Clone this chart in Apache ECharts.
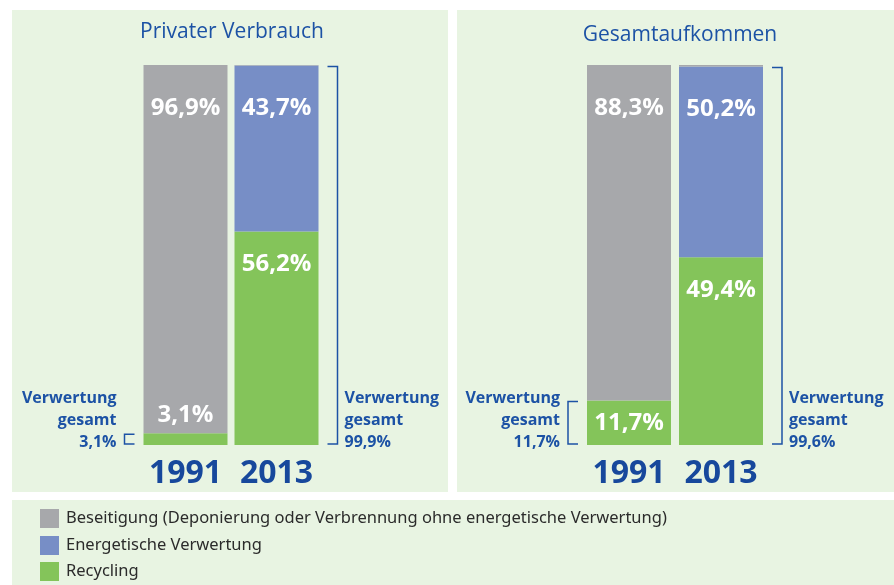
<!DOCTYPE html>
<html lang="de">
<head>
    <meta charset="utf-8">
    <title>Verwertung</title>
    <script src="https://cdn.jsdelivr.net/npm/echarts@6/dist/echarts.min.js"></script>
</head>
<body style="margin:0; background:#ffffff;">
<div id="main" style="width: 894px; height: 585px;"></div>
<script type="text/javascript">
    // Daten
    const years = ['1991', '2013'];
    const panelTitles = ['Privater Verbrauch', 'Gesamtaufkommen'];
    const seriesNames = ['Beseitigung (Deponierung oder Verbrennung ohne energetische Verwertung)', 'Energetische Verwertung', 'Recycling'];
    const privBeseitigung = [96.9, 0.1];
    const privEnergie = [0, 43.7];
    const privRecycling = [3.1, 56.2];
    const gesBeseitigung = [88.3, 0.4];
    const gesEnergie = [0, 50.2];
    const gesRecycling = [11.7, 49.4];

    const colors = ['#a7a8ab', '#778ec6', '#84c45a'];
    const blue = '#1c52a5';
    const bg = '#e8f4e2';
    const font = 'Open Sans';

    function fmt(v) {
        return v.toFixed(1).replace('.', ',') + '%';
    }

    let myChart = echarts.init(document.getElementById('main'));

    function labelFor(kind, v) {
        if (v < 1) return {show: false};
        let base = {show: true, color: '#fff', fontSize: 24, fontWeight: 'bold', fontFamily: font,
            formatter: p => fmt(p.value)};
        if (kind === 'rec') {
            if (v < 5) return Object.assign(base, {position: 'top', distance: 6});
            if (v < 20) return Object.assign(base, {position: 'inside'});
            return Object.assign(base, {position: 'insideTop', distance: 21});
        }
        return Object.assign(base, {position: 'insideTop', distance: 31});
    }

    function makeSeries(grid, arr, kind, name, color) {
        return {
            name: name,
            type: 'bar',
            stack: 's' + grid,
            xAxisIndex: grid,
            yAxisIndex: grid,
            barWidth: 84,
            itemStyle: {color: color},
            data: arr.map(v => ({value: v, label: labelFor(kind, v)}))
        };
    }

    const grids = [
        {left: 140, top: 65, width: 182, height: 380},
        {left: 583, top: 65, width: 184, height: 380}
    ];

    const legendTops = [509, 536, 562];

    const option = {
        animation: false,
        textStyle: {fontFamily: font},
        graphic: [
            {type: 'rect', z: -10, shape: {x: 12, y: 10, width: 436, height: 482}, style: {fill: bg}},
            {type: 'rect', z: -10, shape: {x: 457, y: 10, width: 437, height: 482}, style: {fill: bg}},
            {type: 'rect', z: -10, shape: {x: 12, y: 500, width: 882, height: 85}, style: {fill: bg}}
        ],
        title: [
            {text: panelTitles[0], left: 227, top: 17, textAlign: 'center',
                textStyle: {color: blue, fontSize: 21, fontWeight: 'normal', fontFamily: font}},
            {text: panelTitles[1], left: 675, top: 20, textAlign: 'center',
                textStyle: {color: blue, fontSize: 21, fontWeight: 'normal', fontFamily: font}}
        ],
        legend: seriesNames.map((n, i) => ({
            left: 40,
            top: legendTops[i],
            icon: 'rect',
            itemWidth: 19,
            itemHeight: 19,
            padding: 0,
            selectedMode: false,
            data: [n],
            textStyle: {fontSize: 16.5, color: '#2b2b2b', fontFamily: 'Noto Sans', padding: [3, 0, 0, 2]}
        })),
        grid: grids,
        xAxis: [0, 1].map(g => ({
            type: 'category',
            gridIndex: g,
            data: years,
            axisLine: {show: false},
            axisTick: {show: false},
            axisLabel: {interval: 0, color: '#17489c', fontSize: 32, fontWeight: 'bold', margin: 13, fontFamily: font}
        })),
        yAxis: [0, 1].map(g => ({
            type: 'value',
            gridIndex: g,
            min: 0,
            max: 100,
            show: false,
            splitLine: {show: false}
        })),
        series: [
            makeSeries(0, privRecycling, 'rec', seriesNames[2], colors[2]),
            makeSeries(0, privEnergie, 'en', seriesNames[1], colors[1]),
            makeSeries(0, privBeseitigung, 'bes', seriesNames[0], colors[0]),
            makeSeries(1, gesRecycling, 'rec', seriesNames[2], colors[2]),
            makeSeries(1, gesEnergie, 'en', seriesNames[1], colors[1]),
            makeSeries(1, gesBeseitigung, 'bes', seriesNames[0], colors[0])
        ]
    };
    myChart.setOption(option);

    // Klammern "Verwertung gesamt"
    const verw = [
        [privEnergie, privRecycling],
        [gesEnergie, gesRecycling]
    ];
    let extra = [];
    const half = 42;
    [0, 1].forEach(g => {
        [0, 1].forEach(i => {
            const total = verw[g][0][i] + verw[g][1][i];
            const pTop = myChart.convertToPixel({gridIndex: g}, [years[i], total]);
            const pBot = myChart.convertToPixel({gridIndex: g}, [years[i], 0]);
            const yTop = pTop[1] + 1, yBot = pBot[1] - 1;
            let xv, xt, tx, align;
            if (i === 0) {
                xv = pTop[0] - half - 19; xt = pTop[0] - half - 9;
                tx = pTop[0] - half - 27; align = 'right';
            } else {
                xv = pTop[0] + half + 19; xt = pTop[0] + half + 9;
                tx = pTop[0] + half + 26; align = 'left';
            }
            extra.push({
                type: 'polyline',
                shape: {points: [[xt, yTop], [xv, yTop], [xv, yBot], [xt, yBot]]},
                style: {stroke: blue, lineWidth: 1.5, fill: null}
            });
            extra.push({
                type: 'text',
                x: tx,
                y: pBot[1] + 8,
                style: {
                    text: 'Verwertung\ngesamt\n' + fmt(total),
                    fill: blue,
                    font: 'bold 16px "Open Sans"',
                    lineHeight: 22,
                    align: align,
                    verticalAlign: 'bottom'
                }
            });
        });
    });
    myChart.setOption({graphic: option.graphic.concat(extra)});
</script>
</body>
</html>
